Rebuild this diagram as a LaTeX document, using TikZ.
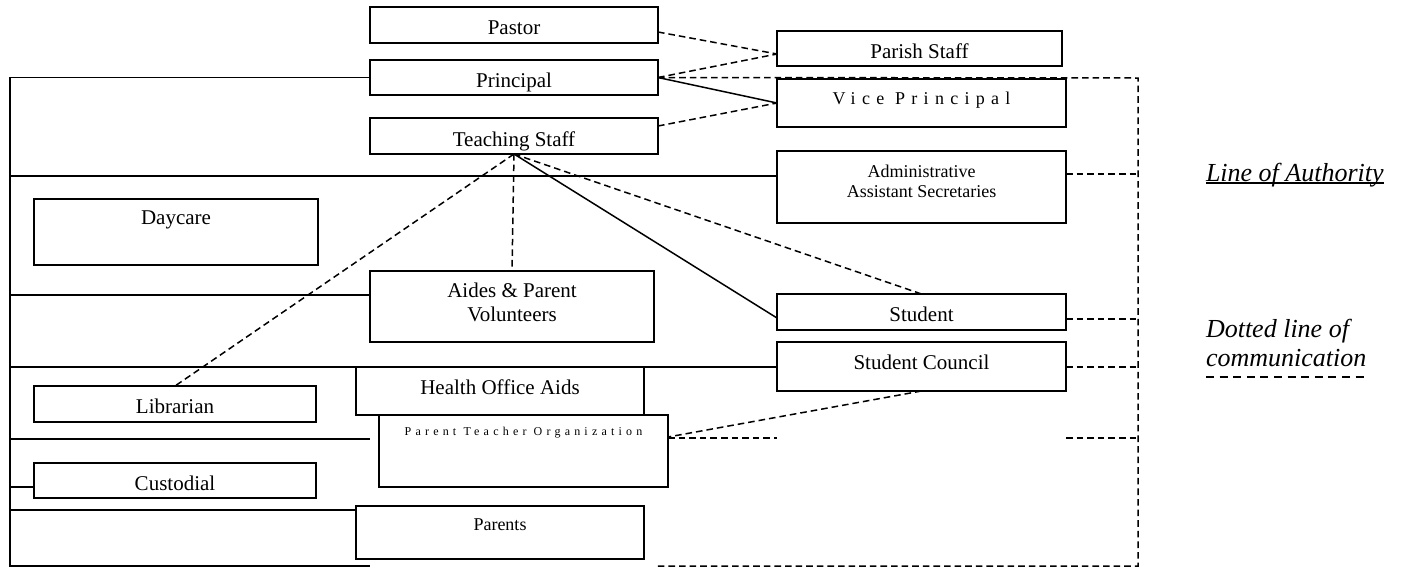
\documentclass[tikz,border=0pt]{standalone}
\usepackage{fontspec}
\setmainfont{Liberation Serif}
\newfontfamily\spacedfont[LetterSpace=35]{Liberation Serif}
\usetikzlibrary{calc}

\tikzset{
  box/.style={draw, line width=0.9pt, rectangle, inner sep=0pt, outer sep=0pt,
    anchor=north west, align=center, font=\fontsize{10.5}{12.1}\selectfont},
  authority/.style={line width=0.75pt},
  comm/.style={line width=0.75pt, dash pattern=on 3.3pt off 2pt},
  legend/.style={inner sep=0pt, outer sep=0pt, font=\fontsize{13}{14.5}\selectfont\itshape}
}

\begin{document}
\begin{tikzpicture}[x=0.5pt, y=-0.5pt]
    \useasboundingbox (0, 0) rectangle (1403, 568);
    % boxes
    \node[box, minimum width=144pt, minimum height=18pt, text height=9pt, text depth=0pt] (pastor) at (370, 7) {Pastor};
    \node[box, minimum width=144pt, minimum height=17.5pt, text height=9.8pt, text depth=0pt] (principal) at (370, 60) {Principal};
    \node[box, minimum width=144pt, minimum height=18pt, text height=10pt, text depth=0pt] (teaching) at (370, 118) {Teaching Staff};
    \node[box, minimum width=142.5pt, minimum height=17.5pt, text height=9.8pt, text depth=0pt] (parish) at (777, 31) {Parish Staff};
    \node[box, minimum width=144.5pt, minimum height=24pt, text height=1pt, text depth=0pt, font=\fontsize{9}{10}\spacedfont] (vice) at (777, 79) {Vice Principal};
    \node[box, minimum width=144.5pt, minimum height=36pt, text height=10.3pt, text depth=0pt, font=\fontsize{9}{10}\selectfont] (admin) at (777, 151) {Administrative\\Assistant Secretaries};
    \node[box, minimum width=142pt, minimum height=33pt, text height=0pt, text depth=8pt] (daycare) at (34, 199) {Daycare};
    \node[box, minimum width=142pt, minimum height=35.5pt, text height=15.2pt, text depth=0pt] (aides) at (370, 271) {Aides \& Parent\\Volunteers};
    \node[box, minimum width=144.5pt, minimum height=18pt, text height=9.7pt, text depth=0pt] (student) at (777, 294) {Student};
    \node[box, minimum width=144.5pt, minimum height=24.5pt, text height=2.8pt, text depth=0pt] (council) at (777, 342) {Student Council};
    \node[box, minimum width=141pt, minimum height=18pt, text height=9.3pt, text depth=0pt] (librarian) at (34, 386) {Librarian};
    \node[box, minimum width=144pt, minimum height=24pt, text height=3.3pt, text depth=0pt] (health) at (356, 367) {Health Office Aids};
    \node[box, minimum width=144.5pt, minimum height=36pt, text height=0pt, text depth=16pt, font=\fontsize{6}{7}\spacedfont] (pto) at (379, 415) {Parent Teacher Organization};
    \node[box, minimum width=141pt, minimum height=17.5pt, text height=9.5pt, text depth=0pt] (custodial) at (34, 463) {Custodial};
    \node[box, minimum width=144pt, minimum height=26.5pt, text height=0pt, text depth=2.5pt, font=\fontsize{9}{10}\selectfont] (parents) at (356, 506) {Parents};
    % legend
    \node[legend, anchor=base west] (authlabel) at (1206, 181) {Line of Authority};
    \node[legend, anchor=south west, align=left] (commlabel) at (1206, 367) {Dotted line of\\communication};
    \draw[authority] ([yshift=-1pt]authlabel.base west) -- ([yshift=-1pt]authlabel.base east);
    \draw[line width=0.75pt, dash pattern=on 4pt off 2.8pt] ([yshift=-5pt]commlabel.south west) -- ([yshift=-5pt]commlabel.south east);
    % left spine
    \coordinate (s1) at (10, 176);
    \coordinate (s2) at (10, 295);
    \coordinate (s3) at (10, 367);
    \coordinate (s4) at (10, 439);
    \coordinate (s5) at (10, 487);
    \coordinate (s6) at (10, 510);
    \coordinate (s7) at (10, 566);
    \draw[authority] (principal.west) -| (s7) -- (s7 -| teaching.west);
    \draw[authority] (s1) -- (s1 -| admin.west);
    \draw[authority] (s2) -- (s2 -| aides.west);
    \draw[authority] (s3) -- (s3 -| council.west);
    \draw[authority] (s4) -- (s4 -| teaching.west);
    \draw[authority] (s5) -- (s5 -| custodial.west);
    \draw[authority] (s6) -- (s6 -| parents.west);
    % right spine
    \coordinate (rtop) at (1138, 78);
    \coordinate (r1) at (1138, 174);
    \coordinate (r2) at (1138, 319);
    \coordinate (r3) at (1138, 367);
    \coordinate (r4) at (1138, 438);
    \coordinate (rbot) at (1138, 566);
    \coordinate (rfoot) at (656, 566);
    \draw[comm] (principal.east) -- (rtop) -- (rbot) -- (rfoot);
    \draw[comm] (r1 -| admin.east) -- (r1);
    \draw[comm] (r2 -| student.east) -- (r2);
    \draw[comm] (r3 -| council.east) -- (r3);
    \draw[comm] ([yshift=6.5pt]pto.east) -- (r4 -| student.west);
    \draw[comm] (r4 -| student.east) -- (r4);
    % connectors
    \draw[comm] ([yshift=-3.5pt]pastor.east) -- ([yshift=-2.75pt]parish.west);
    \draw[comm] (principal.east) -- ([yshift=-2.75pt]parish.west);
    \draw[authority] (principal.east) -- (vice.west);
    \draw[comm] ([yshift=5pt]teaching.east) -- (vice.west);
    \draw[comm] (teaching.south) -- (librarian.north);
    \draw[comm] (teaching.south) -- (aides.north);
    \draw[comm] (teaching.south) -- (student.north);
    \draw[authority] (teaching.south) -- ([yshift=-3pt]student.west);
    \draw[comm] (council.south) -- ([yshift=7pt]pto.east);
\end{tikzpicture}
\end{document}
